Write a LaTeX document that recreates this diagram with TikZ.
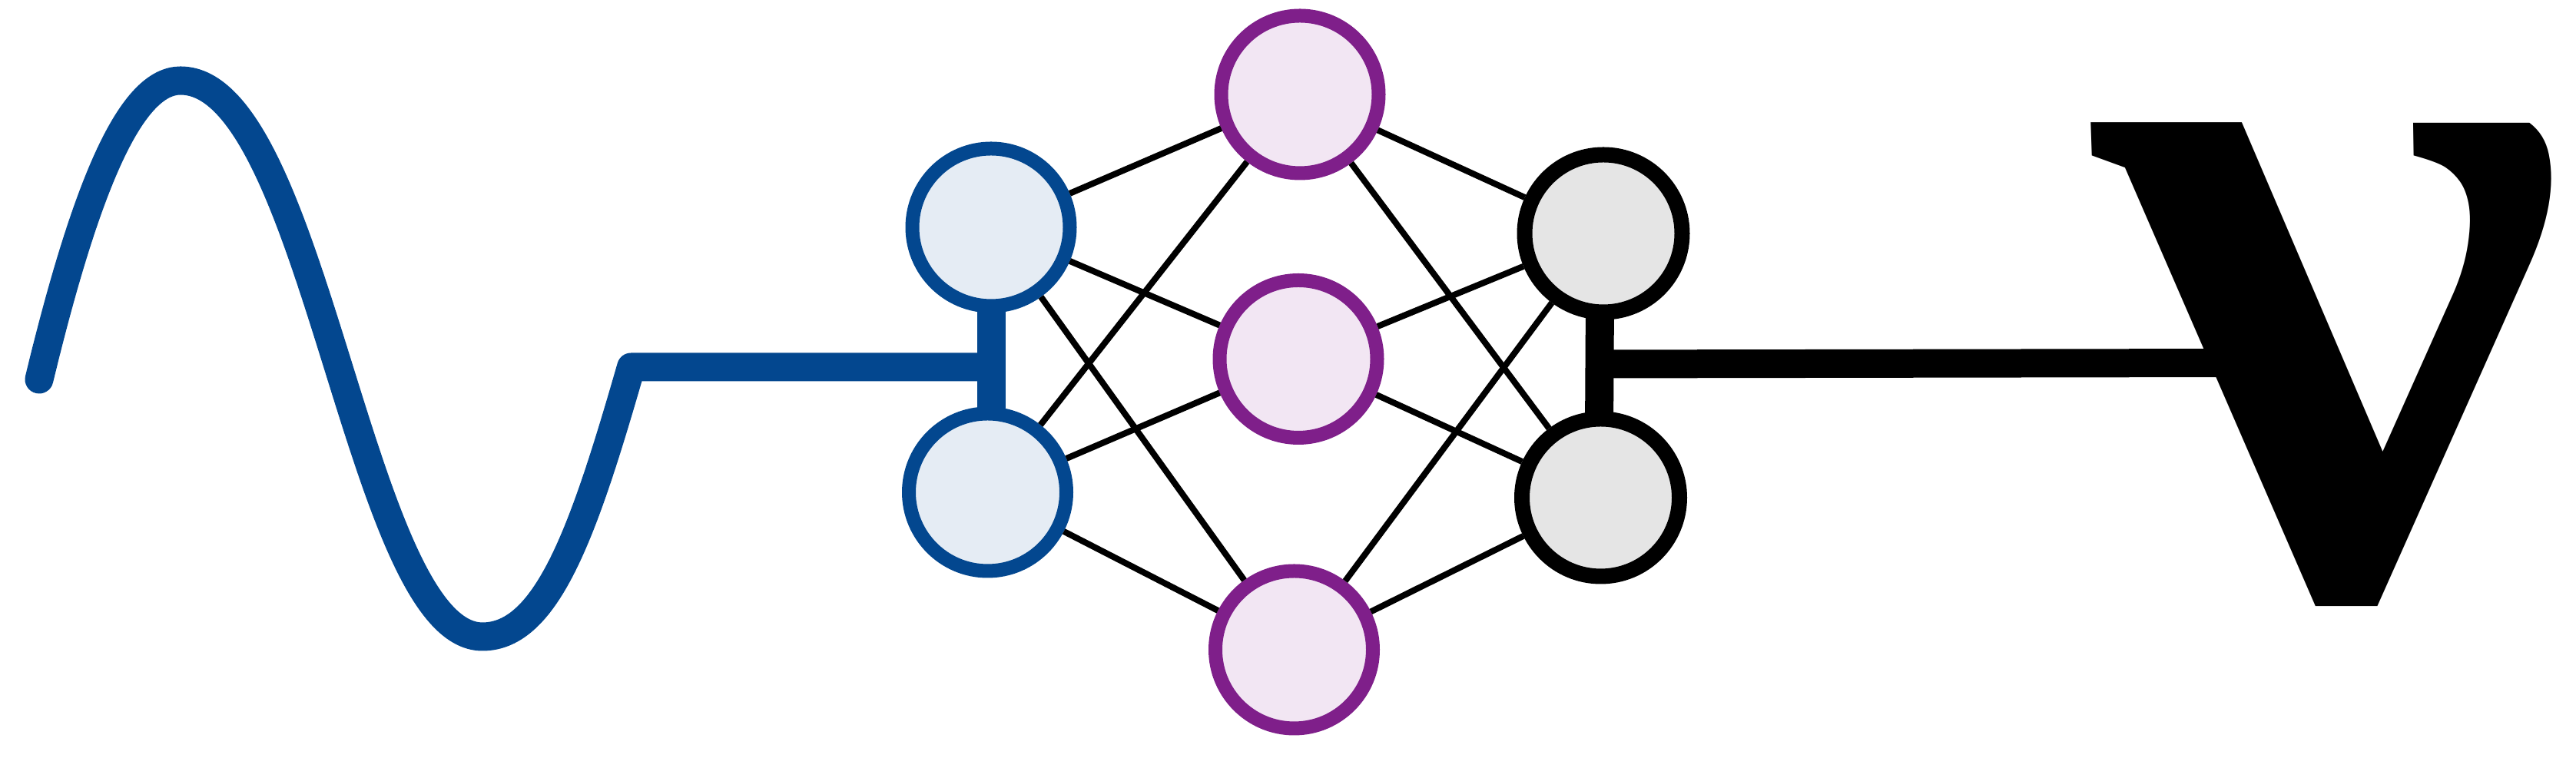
\documentclass[tikz,border=0pt]{standalone}
\usepackage{fontspec}
\newfontfamily\nufont{Liberation Serif}
\usetikzlibrary{backgrounds}
\definecolor{inblue}{HTML}{03478F}
\definecolor{inbluefill}{HTML}{E5ECF4}
\definecolor{hidpurple}{HTML}{7F1F8A}
\definecolor{hidfill}{HTML}{F2E6F3}
\definecolor{outfill}{HTML}{E5E5E5}

\begin{document}
\begin{tikzpicture}[x=1cm,y=1cm]
\tikzset{
  netnode/.style={circle,draw,minimum size=2.05cm,inner sep=0pt},
  innode/.style={netnode,draw=inblue,fill=inbluefill,line width=1.8mm},
  hidnode/.style={netnode,draw=hidpurple,fill=hidfill,line width=1.8mm},
  outnode/.style={netnode,draw=black,fill=outfill,line width=2mm},
  edge/.style={line width=0.8mm,black},
  inbus/.style={line width=3.7mm,inblue,line cap=round,line join=round},
  outbus/.style={line width=3.7mm,black},
  nulabel/.style={inner sep=0pt,transform shape,xslant=-0.2,font=\nufont\bfseries\itshape\fontsize{382}{382}\selectfont}
}
\useasboundingbox (0,0) rectangle (33.53,10);
\node[innode] (n_lu) at (12.90,7.04) {};
\node[innode] (n_ll) at (12.855,3.59) {};
\node[hidnode] (n_top) at (16.92,8.77) {};
\node[hidnode] (n_mid) at (16.90,5.325) {};
\node[hidnode] (n_bot) at (16.845,1.54) {};
\node[outnode] (n_ru) at (20.87,6.96) {};
\node[outnode] (n_rl) at (20.835,3.52) {};
\node[nulabel] (n_nu) at (30.63,5.25) {\makebox[3cm]{ν}};
\coordinate (c_start) at (0.51,5.06);
\coordinate (c_corner) at (8.215,5.22);
\coordinate (c_join) at (12.89,5.22);
\coordinate (c_outa) at (20.82,5.26);
\coordinate (c_outb) at (29.25,5.275);
\draw[edge] (n_lu) -- (n_top);
\draw[edge] (n_lu) -- (n_mid);
\draw[edge] (n_lu) -- (n_bot);
\draw[edge] (n_ll) -- (n_top);
\draw[edge] (n_ll) -- (n_mid);
\draw[edge] (n_ll) -- (n_bot);
\draw[edge] (n_top) -- (n_ru);
\draw[edge] (n_top) -- (n_rl);
\draw[edge] (n_mid) -- (n_ru);
\draw[edge] (n_mid) -- (n_rl);
\draw[edge] (n_bot) -- (n_ru);
\draw[edge] (n_bot) -- (n_rl);
\begin{pgfonlayer}{background}
\draw[inbus] (c_start) .. controls (1.14,7.67) and (1.72,8.95) .. (2.35,8.95)
  .. controls (4.10,8.95) and (4.68,1.71) .. (6.28,1.71)
  .. controls (7.13,1.71) and (7.61,3.12) .. (c_corner) -- (c_join);
\draw[inbus] (n_lu.south) -- (n_lu.south |- n_ll.north);
\draw[outbus] ([xshift=-0.4mm]n_ru.center) -- ([xshift=-0.25mm]n_rl.center);
\draw[outbus] (c_outa) -- (c_outb);
\end{pgfonlayer}
\end{tikzpicture}
\end{document}
